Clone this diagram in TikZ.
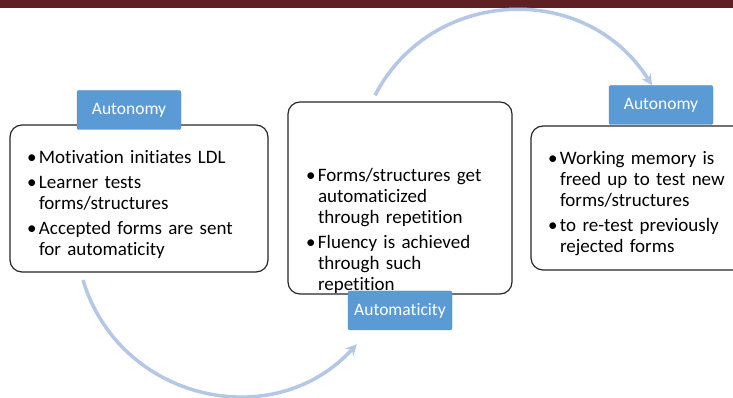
\documentclass[tikz,border=0pt]{standalone}
\usepackage{fontspec}
\setmainfont{Carlito}[Ligatures=NoCommon]
\usetikzlibrary{arrows.meta}
\definecolor{barred}{RGB}{94,32,34}
\definecolor{labblue}{RGB}{91,155,213}
\definecolor{arcblue}{RGB}{180,199,231}
\newcommand{\listpt}[1]{\par\hangindent=12bp\hangafter=1\noindent\makebox[12bp][l]{\textbullet}#1\par}
\begin{document}
\begin{tikzpicture}[>={Stealth[length=11bp,width=11bp]},line join=bevel,
  stagebox/.style={draw=black!85,line width=1.2bp,rounded corners=12bp,align=left,inner ysep=0bp,
    font={\fontsize{19bp}{21bp}\selectfont\setlength{\parskip}{4bp}}},
  phase/.style={fill=labblue,draw=labblue!90!black,rounded corners=2bp,text=white,
    minimum width=104bp,minimum height=39bp,inner sep=0bp,font=\fontsize{17.5bp}{21bp}\selectfont},
  arcline/.style={arcblue,line width=3.5bp,->}]
%%
\useasboundingbox (0bp,0bp) rectangle (733bp,398bp);
\fill [barred] (0bp,390bp) rectangle (733bp,398bp);
%
\node (node_left) at (139bp,199.5bp) [stagebox,text width=224bp,minimum width=258bp,minimum height=147bp] {\listpt{Motivation initiates LDL}\listpt{Learner tests\newline forms/structures}\listpt{Accepted forms are sent\newline for automaticity}};
  \node (node_mid) at (400bp,200bp) [stagebox,text width=188bp,minimum width=224bp,minimum height=190bp] {\vspace*{55bp}\listpt{Forms/structures get\newline automaticized\newline through repetition}\listpt{Fluency is achieved\newline through such\newline repetition}};
  \node (node_right) at (638bp,200bp) [stagebox,text width=180bp,minimum width=214bp,minimum height=144bp] {\listpt{Working memory is\newline freed up to test new\newline forms/structures}\listpt{to re-test previously\newline rejected forms}};
%
\node (node_auto_a) at (129bp,288bp) [phase] {Autonomy};
  \node (node_automat) at (400bp,87.5bp) [phase] {Automaticity};
  \node (node_auto_b) at (661bp,293bp) [phase] {Autonomy};
%
\coordinate (arc_top) at ([xshift=-25bp,yshift=6bp]node_mid.north);
  \coordinate (arc_low) at ([xshift=-56bp,yshift=-7.5bp]node_left.south);
  \draw [arcline] (arc_top) ..controls (431bp,411bp) and (586bp,418bp) .. ([xshift=-9bp]node_auto_b.north);
  \draw [arcline] (arc_low) ..controls (119bp,-2bp) and (273bp,-38bp) .. ([xshift=9bp,yshift=-14bp]node_automat.south west);
%
\end{tikzpicture}
\end{document}
